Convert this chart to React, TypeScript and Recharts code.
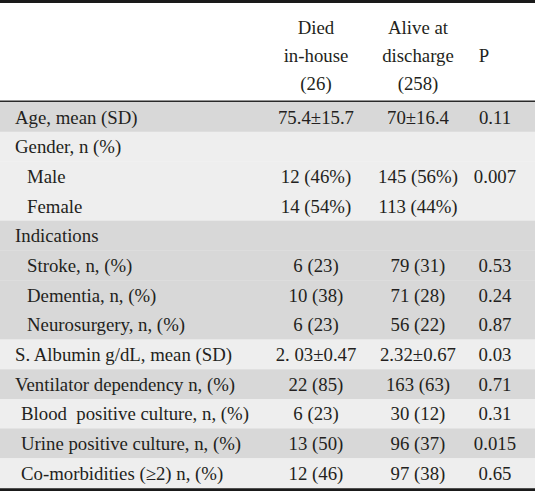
import React from 'react';
import { BarChart, Bar, XAxis, YAxis, Cell, LabelList, Customized } from 'recharts';

// table rows
const rowLabels = [
  'Age, mean (SD)',
  'Gender, n (%)',
  'Male',
  'Female',
  'Indications',
  'Stroke, n, (%)',
  'Dementia, n, (%)',
  'Neurosurgery, n, (%)',
  'S. Albumin g/dL, mean (SD)',
  'Ventilator dependency n, (%)',
  'Blood  positive culture, n, (%)',
  'Urine positive culture, n, (%)',
  'Co-morbidities (\u22652) n, (%)',
];
// 0 = main row, 1 = slightly indented main row, 2 = sub-item of the row above
const rowLevel = [0, 0, 2, 2, 0, 2, 2, 2, 0, 0, 1, 1, 1];
const diedValues = ['75.4\u00b115.7', '', '12 (46%)', '14 (54%)', '', '6 (23)', '10 (38)', '6 (23)', '2. 03\u00b10.47', '22 (85)', '6 (23)', '13 (50)', '12 (46)'];
const aliveValues = ['70\u00b116.4', '', '145 (56%)', '113 (44%)', '', '79 (31)', '71 (28)', '56 (22)', '2.32\u00b10.67', '163 (63)', '30 (12)', '96 (37)', '97 (38)'];
const pValues = ['0.11', '', '0.007', '', '', '0.53', '0.24', '0.87', '0.03', '0.71', '0.31', '0.015', '0.65'];

const headDied = ['Died', 'in-house', '(26)'];
const headAlive = ['Alive at', 'discharge', '(258)'];
const headP = 'P';

const W = 535;
const H = 491;
const TXT: React.CSSProperties = {
  fontFamily: "'Liberation Serif', 'Times New Roman', serif",
  fontSize: 18.8,
  whiteSpace: 'pre',
};
const INK = '#231f20';
const DARK = '#d8d8d8';
const LIGHT = '#eeeeee';
const COL_DIED = 316;
const COL_ALIVE = 418;
const COL_P = 495;
const INDENT = [15, 21, 27];

// alternate shading by group; sub-items share their parent's group
let g = -1;
const groupIdx = rowLevel.map((lv) => (lv === 2 ? g : ++g));

const data = rowLabels.map((label, i) => ({
  label,
  died: diedValues[i],
  alive: aliveValues[i],
  p: pValues[i],
  span: 1,
}));

const cellText = (col: number | 'label') => (props: any) => {
  const { x, y, height, value, index } = props;
  if (!value) return null;
  const isLabel = col === 'label';
  return (
    <text
      x={isLabel ? x + INDENT[rowLevel[index]] : col}
      y={y + height / 2}
      textAnchor={isLabel ? 'start' : 'middle'}
      dominantBaseline="central"
      style={TXT}
      fill={INK}
    >
      {value}
    </text>
  );
};

const Header = () => (
  <g fill={INK}>
    <rect x={0} y={0} width={W} height={3} fill="#1a1a1a" />
    {headDied.map((t, i) => (
      <text key={'d' + i} x={COL_DIED} y={27 + i * 28} textAnchor="middle" dominantBaseline="central" style={TXT}>{t}</text>
    ))}
    {headAlive.map((t, i) => (
      <text key={'a' + i} x={COL_ALIVE} y={27 + i * 28} textAnchor="middle" dominantBaseline="central" style={TXT}>{t}</text>
    ))}
    <text x={484} y={55} textAnchor="middle" dominantBaseline="central" style={TXT}>{headP}</text>
    <rect x={0} y={100.5} width={W} height={1.5} fill="#2a2a2a" />
    <rect x={0} y={488} width={W} height={3} fill="#1a1a1a" />
  </g>
);

export default function App() {
  return (
    <div style={{ position: 'absolute', left: 0, top: 0, width: W, height: H, background: '#fff' }}>
      <BarChart
        width={W}
        height={H}
        data={data}
        layout="vertical"
        margin={{ top: 102, right: 0, bottom: 3, left: 0 }}
        barCategoryGap={0}
      >
        <XAxis type="number" domain={[0, 1]} hide />
        <YAxis type="category" dataKey="label" hide />
        <Bar dataKey="span" isAnimationActive={false}>
          {data.map((d, i) => (
            <Cell key={i} fill={groupIdx[i] % 2 === 0 ? DARK : LIGHT} />
          ))}
          <LabelList dataKey="label" content={cellText('label')} />
          <LabelList dataKey="died" content={cellText(COL_DIED)} />
          <LabelList dataKey="alive" content={cellText(COL_ALIVE)} />
          <LabelList dataKey="p" content={cellText(COL_P)} />
        </Bar>
        <Customized component={Header} />
      </BarChart>
    </div>
  );
}
